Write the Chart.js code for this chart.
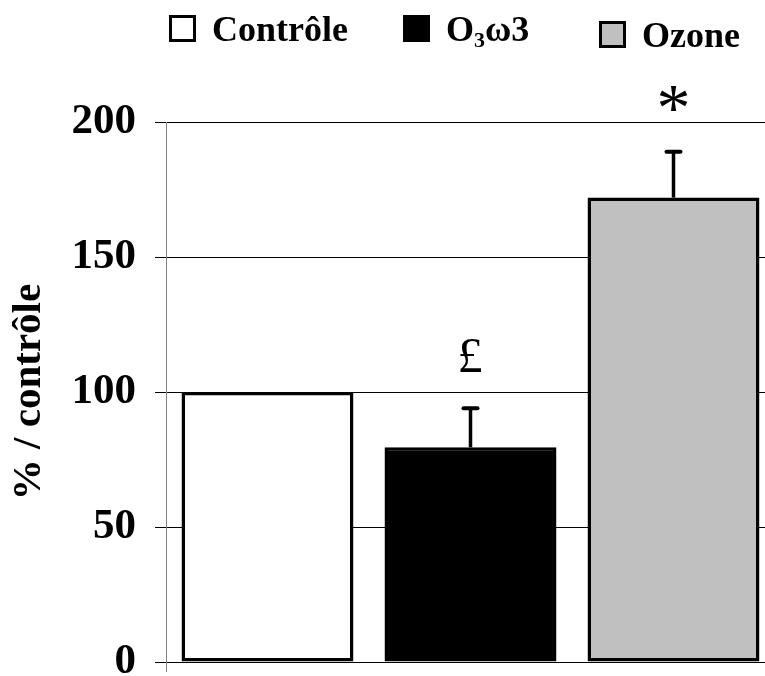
<!DOCTYPE html>
<html>
<head>
<meta charset="utf-8">
<style>
html,body{margin:0;padding:0;overflow:hidden;background:#fff;}
canvas{display:block;}
</style>
<script src="https://cdn.jsdelivr.net/npm/chart.js@4/dist/chart.umd.min.js"></script>
</head>
<body>
<canvas id="c" width="776" height="676"></canvas>
<script>
// ---- data ----
const categories = ['Contrôle', 'O₃ω3', 'Ozone'];
const values = [100, 79.5, 172];
const errors = [0, 14.5, 17];
const markers = ['', '£', '*'];
const fillColors = ['#ffffff', '#000000', '#c0c0c0'];
const yTicks = [0, 50, 100, 150, 200];
const yTitle = '% / contrôle';

const SERIF = '"Liberation Serif", "Times New Roman", serif';
const SUBS = '₀₁₂₃₄₅₆₇₈₉';

function drawRich(ctx, text, x, y, size) {
  let cx = x;
  for (const ch of text) {
    const si = SUBS.indexOf(ch);
    if (si >= 0) {
      ctx.font = 'bold ' + Math.round(size * 0.62) + 'px ' + SERIF;
      ctx.fillText(String(si), cx, y + size * 0.16);
      cx += ctx.measureText(String(si)).width;
    } else {
      ctx.font = 'bold ' + size + 'px ' + SERIF;
      ctx.fillText(ch, cx, y);
      cx += ctx.measureText(ch).width;
    }
  }
  return cx;
}

const legendPlugin = {
  id: 'customLegend',
  afterDraw(chart) {
    const ctx = chart.ctx;
    const xs = [169, 403, 599];
    const dy = [0, 0, 6];
    const box = 27;
    ctx.save();
    ctx.textBaseline = 'alphabetic';
    ctx.textAlign = 'left';
    categories.forEach((lab, i) => {
      const bx = xs[i], by = 15 + dy[i];
      ctx.fillStyle = fillColors[i];
      ctx.fillRect(bx, by, box, box);
      ctx.strokeStyle = '#000';
      ctx.lineWidth = 3;
      ctx.strokeRect(bx + 1.5, by + 1.5, box - 3, box - 3);
      ctx.fillStyle = '#000';
      drawRich(ctx, lab, bx + box + 16, 41 + dy[i], 36);
    });
    ctx.restore();
  }
};

const errorPlugin = {
  id: 'errorBars',
  afterDatasetsDraw(chart) {
    const ctx = chart.ctx;
    const ys = chart.scales.y;
    const meta = chart.getDatasetMeta(0);
    ctx.save();
    meta.data.forEach((bar, i) => {
      const topVal = values[i] + errors[i];
      const top = ys.getPixelForValue(topVal);
      if (errors[i] > 0) {
        ctx.strokeStyle = '#000';
        ctx.lineWidth = 3.5;
        ctx.lineCap = 'butt';
        ctx.beginPath();
        ctx.moveTo(bar.x, bar.y);
        ctx.lineTo(bar.x, top);
        ctx.stroke();
        ctx.lineWidth = 4;
        ctx.lineCap = 'round';
        ctx.beginPath();
        ctx.moveTo(bar.x - 7, top);
        ctx.lineTo(bar.x + 7, top);
        ctx.stroke();
      }
      if (markers[i]) {
        const size = markers[i] === '*' ? 68 : 50;
        ctx.font = size + 'px ' + SERIF;
        ctx.fillStyle = '#000';
        ctx.textAlign = 'left';
        ctx.textBaseline = 'alphabetic';
        const m = ctx.measureText(markers[i]);
        const cx = bar.x, cy = top - 53;
        const x = cx - (m.actualBoundingBoxRight - m.actualBoundingBoxLeft) / 2;
        const y = cy - (m.actualBoundingBoxDescent - m.actualBoundingBoxAscent) / 2;
        ctx.fillText(markers[i], x, y);
      }
    });
    ctx.restore();
  }
};

new Chart(document.getElementById('c').getContext('2d'), {
  type: 'bar',
  data: {
    labels: categories,
    datasets: [{
      data: values,
      backgroundColor: fillColors,
      borderColor: '#000',
      borderWidth: 3.5,
      borderSkipped: false,
      categoryPercentage: 1,
      barPercentage: 0.847
    }]
  },
  options: {
    responsive: false,
    animation: false,
    devicePixelRatio: 1,
    layout: { padding: { top: 122, right: 1, bottom: 4, left: 0 } },
    plugins: { legend: { display: false }, tooltip: { enabled: false } },
    scales: {
      x: {
        ticks: { display: false },
        grid: {
          display: true, drawOnChartArea: false, offset: true, tickLength: 10,
          color: (c) => c.index === 0 ? '#808080' : 'rgba(0,0,0,0)'
        },
        border: { display: true, color: '#000', width: 1 },
        afterFit: (s) => { s.height = 10; s.paddingLeft = 0; s.paddingRight = 0; }
      },
      y: {
        min: 0, max: 200,
        afterBuildTicks: (s) => { s.ticks = yTicks.map(v => ({ value: v })); },
        ticks: { font: { family: SERIF, size: 43, weight: 'bold' }, color: '#000', padding: 19 },
        grid: { color: '#000', lineWidth: 1, tickLength: 11 },
        border: { color: '#808080', width: 1 },
        title: {
          display: true, text: yTitle, color: '#000',
          font: { family: SERIF, size: 41, weight: 'bold' },
          padding: { top: 5, bottom: 0 }
        },
        afterFit: (s) => { s.width = 166; s.paddingTop = 0; s.paddingBottom = 0; }
      }
    }
  },
  plugins: [errorPlugin, legendPlugin]
});
</script>
</body>
</html>
